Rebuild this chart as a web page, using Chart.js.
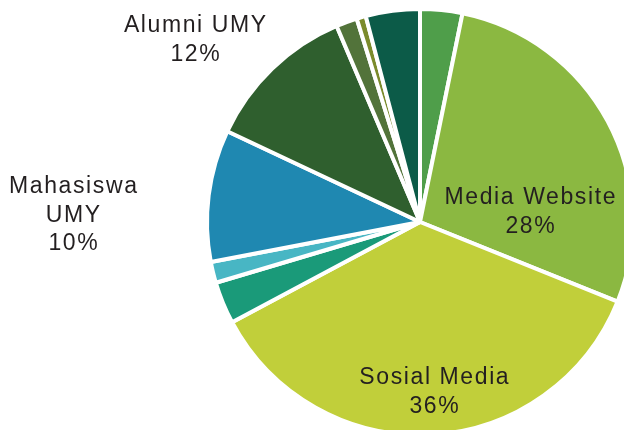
<!DOCTYPE html>
<html>
<head>
<meta charset="utf-8">
<script src="https://cdn.jsdelivr.net/npm/chart.js@4/dist/chart.umd.min.js"></script>
<style>
html,body{margin:0;padding:0;background:#fff;overflow:hidden;width:624px;height:430px;}
#wrap{position:absolute;left:0;top:0;width:640px;height:440px;}
</style>
</head>
<body>
<div id="wrap"><canvas id="c"></canvas></div>
<script>
// Categories (clockwise from 12 o'clock)
const categories = ['Lainnya 1','Media Website','Sosial Media','Lainnya 2','Lainnya 3','Mahasiswa UMY','Alumni UMY','Lainnya 4','Lainnya 5','Lainnya 6'];
// Shares in percent
const values = [3.2, 27.9, 36.1, 3.2, 1.6, 10.0, 11.6, 1.6, 0.7, 4.1];
const colors = ['#4f9e4a','#8bb841','#c1cf3a','#1a9a79','#48b6c4','#1f88b1','#2f5f2e','#52733a','#7b8b2c','#0c5b48'];
// Label texts shown on the chart
const labelLines = [
  ['Media Website','28%'],
  ['Sosial Media','36%'],
  ['Mahasiswa','UMY','10%'],
  ['Alumni UMY','12%']
];
// label anchor offsets from pie centre (first line baseline), px
const labelAnchors = [[110,-18],[14,162],[-347,-29],[-225,-190]];

const labelPlugin = {
  id:'labels',
  afterDraw(chart){
    const arc = chart.getDatasetMeta(0).data[0];
    const cx = arc.x, cy = arc.y;
    const ctx = chart.ctx;
    ctx.save();
    ctx.fillStyle = '#231f20';
    ctx.font = '23px "Liberation Sans", Arial, sans-serif';
    ctx.letterSpacing = '1.6px';
    ctx.textAlign = 'center';
    ctx.textBaseline = 'alphabetic';
    labelLines.forEach((lines,i)=>{
      const [dx,dy] = labelAnchors[i];
      lines.forEach((t,j)=>{
        ctx.fillText(t, cx+dx+0.8, cy+dy+j*28.5);
      });
    });
    ctx.restore();
  }
};

new Chart(document.getElementById('c'),{
  type:'pie',
  data:{labels:categories,datasets:[{data:values,backgroundColor:colors,borderColor:'#ffffff',borderWidth:4,hoverOffset:0}]},
  options:{
    responsive:true,maintainAspectRatio:false,animation:false,
    events:[],
    layout:{padding:{left:205,top:7,right:5,bottom:3}},
    plugins:{legend:{display:false},tooltip:{enabled:false}}
  },
  plugins:[labelPlugin]
});
</script>
</body>
</html>
